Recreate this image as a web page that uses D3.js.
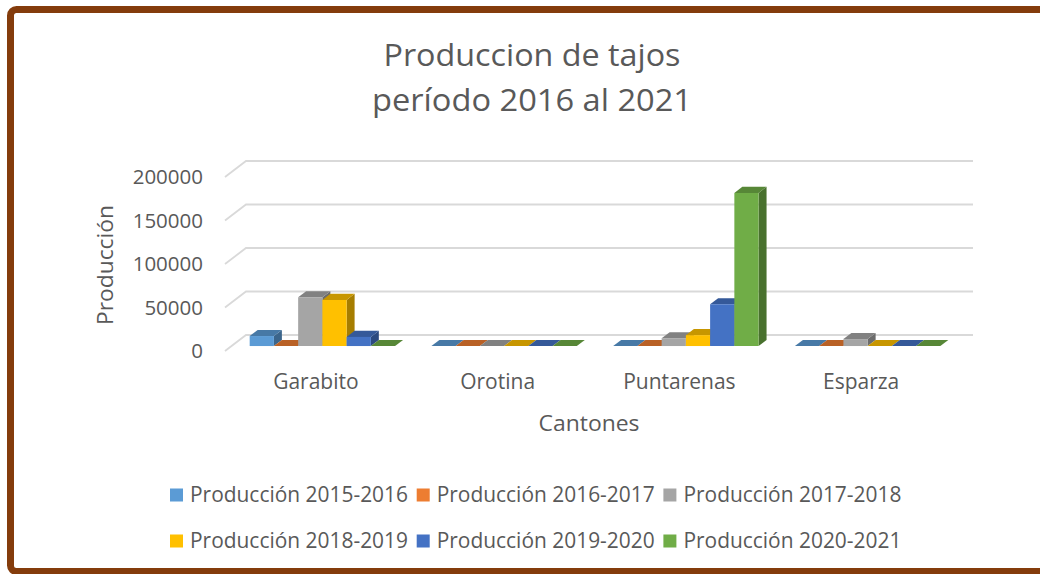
<!DOCTYPE html>
<html>
<head>
<meta charset="utf-8">
<script src="https://cdn.jsdelivr.net/npm/d3@7/dist/d3.min.js"></script>
<style>
  html, body { margin: 0; padding: 0; background: #fff; }
  svg { display: block; }
  text { font-family: "Open Sans", "Noto Sans", sans-serif; fill: #595959; }
</style>
</head>
<body>
<div id="chart"></div>
<script>
// Data
const cantones = ["Garabito", "Orotina", "Puntarenas", "Esparza"];
const seriesNames = [
  "Producción 2015-2016", "Producción 2016-2017", "Producción 2017-2018",
  "Producción 2018-2019", "Producción 2019-2020", "Producción 2020-2021"
];
const seriesColors = ["#5B9BD5", "#ED7D31", "#A5A5A5", "#FFC000", "#4472C4", "#70AD47"];
const prod1516 = [11500, 0, 0, 0];
const prod1617 = [0, 0, 0, 0];
const prod1718 = [56000, 0, 9000, 8000];
const prod1819 = [53000, 0, 12500, 0];
const prod1920 = [10500, 0, 48000, 0];
const prod2021 = [0, 0, 176000, 0];
const seriesValues = [prod1516, prod1617, prod1718, prod1819, prod1920, prod2021];
const yTicks = [0, 50000, 100000, 150000, 200000];
const titleLines = ["Produccion de tajos", "período 2016 al 2021"];

// Dimensions
const W = 1040, H = 574;
const plot = { left: 225, right: 952, zero: 351, top: 177 };
const DX = 21, DY = 16;          // depth offset of the back wall
const Z0 = 0.31, Z1 = 0.69;      // bar depth range

const svg = d3.select("#chart").append("svg")
  .attr("width", W).attr("height", H);

// Frame
svg.append("rect")
  .attr("x", 10.5).attr("y", 9.5)
  .attr("width", 1100).attr("height", 562)
  .attr("rx", 6)
  .attr("fill", "#fff")
  .attr("stroke", "#843C0C")
  .attr("stroke-width", 7);

// Scales
const x = d3.scaleBand().domain(cantones).range([plot.left, plot.right]).padding(0);
const xs = d3.scaleBand().domain(seriesNames)
  .range([x.bandwidth() * 0.1, x.bandwidth() * 0.9]).padding(0);
const y = d3.scaleLinear().domain([0, 200000]).range([plot.zero, plot.top]);

function P(px, v, z) { return [px + z * DX, y(v) - z * DY]; }
const line = d3.line();

// Walls gridlines
const grid = svg.append("g");
yTicks.forEach(t => {
  grid.append("path")
    .attr("d", line([P(plot.left, t, 0), P(plot.left, t, 1), P(plot.right, t, 1)]))
    .attr("fill", "none")
    .attr("stroke", "#d9d9d9")
    .attr("stroke-width", 1.8);
});

// Y tick labels
svg.append("g").selectAll("text")
  .data(yTicks).enter().append("text")
  .attr("x", 203)
  .attr("y", d => y(d))
  .attr("dy", "0.35em")
  .attr("text-anchor", "end")
  .style("font-size", "20.5px")
  .text(d => d);

// Bars
const bars = svg.append("g");
cantones.forEach((c, i) => {
  seriesNames.forEach((s, j) => {
    const v = seriesValues[j][i];
    const xl = x(c) + xs(s), xr = xl + xs.bandwidth();
    const col = d3.color(seriesColors[j]);
    bars.append("path")
      .attr("d", line([P(xr, 0, Z0), P(xr, v, Z0), P(xr, v, Z1), P(xr, 0, Z1)]) + "Z")
      .attr("fill", col.darker(1.2));
    bars.append("path")
      .attr("d", line([P(xl, v, Z0), P(xr, v, Z0), P(xr, v, Z1), P(xl, v, Z1)]) + "Z")
      .attr("fill", col.darker(0.7));
    bars.append("path")
      .attr("d", line([P(xl, 0, Z0), P(xr, 0, Z0), P(xr, v, Z0), P(xl, v, Z0)]) + "Z")
      .attr("fill", col);
  });
});

// Category labels
svg.append("g").selectAll("text")
  .data(cantones).enter().append("text")
  .attr("x", d => x(d) + x.bandwidth() / 2)
  .attr("y", 382)
  .attr("dy", "0.35em")
  .attr("text-anchor", "middle")
  .style("font-size", "21px")
  .text(d => d);

// Axis titles
svg.append("text")
  .attr("transform", "translate(105,265) rotate(-90)")
  .attr("dy", "0.35em")
  .attr("text-anchor", "middle")
  .attr("textLength", 120).attr("lengthAdjust", "spacingAndGlyphs")
  .style("font-size", "22px")
  .text("Producción");

svg.append("text")
  .attr("x", 589).attr("y", 423)
  .attr("dy", "0.35em")
  .attr("text-anchor", "middle")
  .attr("textLength", 101).attr("lengthAdjust", "spacingAndGlyphs")
  .style("font-size", "22px")
  .text("Cantones");

// Title
svg.append("g").selectAll("text")
  .data(titleLines).enter().append("text")
  .attr("x", 532)
  .attr("y", (d, i) => 55 + i * 45)
  .attr("dy", "0.35em")
  .attr("text-anchor", "middle")
  .attr("textLength", (d, i) => i === 0 ? 297 : 320)
  .attr("lengthAdjust", "spacingAndGlyphs")
  .style("font-size", "31px")
  .text(d => d);

// Legend
const legend = svg.append("g").selectAll("g")
  .data(seriesNames).enter().append("g")
  .attr("transform", (d, i) => `translate(${170 + (i % 3) * 246.7},${495 + Math.floor(i / 3) * 46})`);

legend.append("rect")
  .attr("x", 0).attr("y", -6.5)
  .attr("width", 13).attr("height", 13)
  .attr("fill", (d, i) => seriesColors[i]);

legend.append("text")
  .attr("x", 20).attr("y", 0)
  .attr("dy", "0.35em")
  .attr("textLength", 218).attr("lengthAdjust", "spacingAndGlyphs")
  .style("font-size", "21px")
  .text(d => d);
</script>
</body>
</html>
